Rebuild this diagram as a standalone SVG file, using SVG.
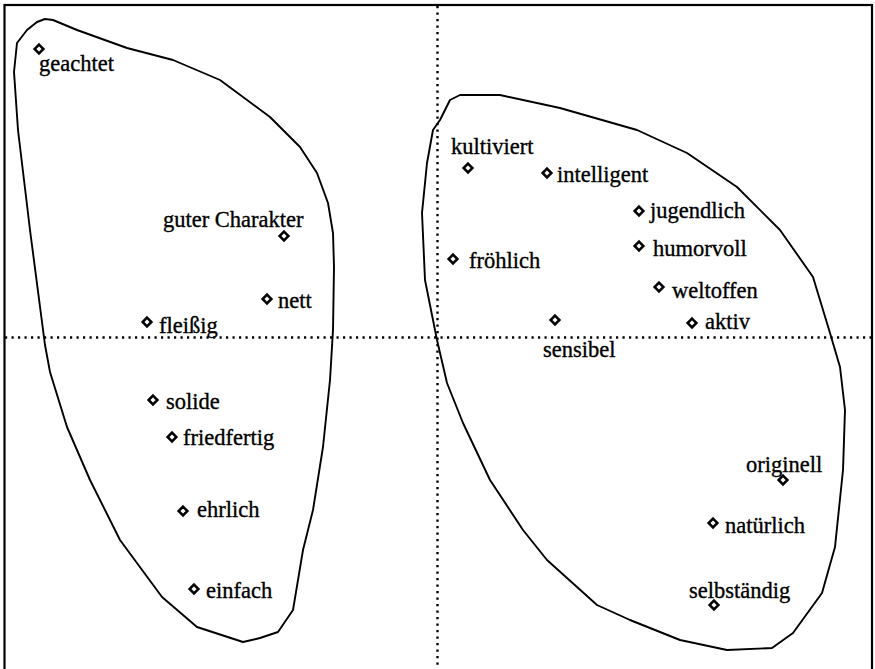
<svg xmlns="http://www.w3.org/2000/svg" width="875" height="669" viewBox="0 0 875 669">
<style>
.frame{fill:none;stroke:#000;stroke-width:2.2}
.axis{fill:none;stroke:#000;stroke-width:2.4;stroke-dasharray:2.2 4.3}
.blob{fill:none;stroke:#000;stroke-width:1.9;stroke-linejoin:round}
.lbl{font-family:"Liberation Serif","Times New Roman",serif;font-size:22.5px;fill:#000;stroke:#000;stroke-width:0.35}
</style>
<defs>
<path id="dm" d="M0,-4.4 L4.4,0 L0,4.4 L-4.4,0 Z" fill="#fff" stroke="#000" stroke-width="2.5"/>
</defs>
<rect width="875" height="669" fill="#fff"/>
<rect class="frame" x="4.5" y="5" width="867.5" height="670"/>
<g id="axes">
<line class="axis" x1="437.5" y1="6" x2="437.5" y2="669"/>
<line class="axis" x1="5" y1="337.5" x2="871" y2="337.5"/>
</g>
<g id="clusters">
<polygon id="cluster-left" class="blob" points="14,72 17,43 27,30 37,22 45,19 53,20 77,30 127,48 173,60 220,80 270,117 300,147 317,173 328,203 333,233 334,267 333,330 330,380 323,447 313,510 303,550 293,610 278,632 260,638 243,642 197,627 162,597 120,540 90,480 67,427 50,372 45,345 30,230 18,130"/>
<polygon id="cluster-right" class="blob" points="450,100 460,95 500,95 560,108 637,130 687,153 737,187 780,230 813,277 830,333 840,367 845,410 843,470 835,547 822,593 793,633 772,648 727,650 680,640 630,620 597,605 547,560 523,530 490,480 463,423 447,383 437,340 425,280 422,213 427,163 433,130 440,120"/>
</g>
<g id="n-geachtet"><use href="#dm" x="39" y="49"/><text class="lbl" x="39" y="71">geachtet</text></g>
<g id="n-guter-charakter"><use href="#dm" x="284" y="236"/><text class="lbl" x="163" y="227">guter Charakter</text></g>
<g id="n-nett"><use href="#dm" x="267" y="299"/><text class="lbl" x="278" y="308">nett</text></g>
<g id="n-fleissig"><use href="#dm" x="147" y="322"/><text class="lbl" x="159" y="333">fleißig</text></g>
<g id="n-solide"><use href="#dm" x="153" y="400"/><text class="lbl" x="166" y="409">solide</text></g>
<g id="n-friedfertig"><use href="#dm" x="172" y="437"/><text class="lbl" x="183" y="445">friedfertig</text></g>
<g id="n-ehrlich"><use href="#dm" x="183" y="511"/><text class="lbl" x="197" y="517">ehrlich</text></g>
<g id="n-einfach"><use href="#dm" x="194" y="589"/><text class="lbl" x="206" y="598">einfach</text></g>
<g id="n-kultiviert"><use href="#dm" x="468" y="168"/><text class="lbl" x="451" y="154">kultiviert</text></g>
<g id="n-intelligent"><use href="#dm" x="547" y="173"/><text class="lbl" x="557" y="182">intelligent</text></g>
<g id="n-jugendlich"><use href="#dm" x="639" y="211"/><text class="lbl" x="650" y="218">jugendlich</text></g>
<g id="n-humorvoll"><use href="#dm" x="639" y="246"/><text class="lbl" x="653" y="256">humorvoll</text></g>
<g id="n-froehlich"><use href="#dm" x="453" y="259"/><text class="lbl" x="469" y="268">fröhlich</text></g>
<g id="n-weltoffen"><use href="#dm" x="659" y="287"/><text class="lbl" x="672" y="298">weltoffen</text></g>
<g id="n-aktiv"><use href="#dm" x="692" y="323"/><text class="lbl" x="705" y="329">aktiv</text></g>
<g id="n-sensibel"><use href="#dm" x="555" y="320"/><text class="lbl" x="543" y="357">sensibel</text></g>
<g id="n-originell"><use href="#dm" x="783" y="480"/><text class="lbl" x="746" y="472">originell</text></g>
<g id="n-natuerlich"><use href="#dm" x="713" y="523"/><text class="lbl" x="725" y="533">natürlich</text></g>
<g id="n-selbstaendig"><use href="#dm" x="714" y="605"/><text class="lbl" x="689" y="598">selbständig</text></g>
</svg>
